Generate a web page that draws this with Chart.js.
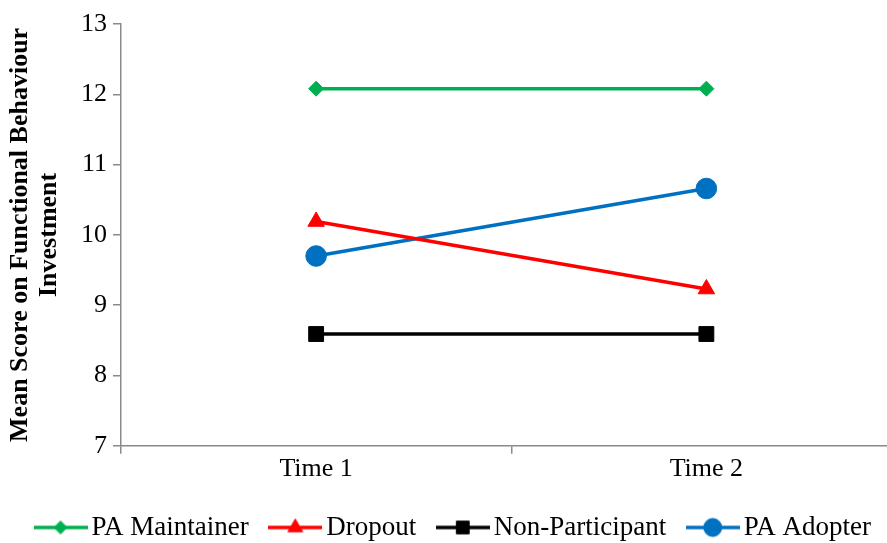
<!DOCTYPE html>
<html>
<head>
<meta charset="utf-8">
<script src="https://cdn.jsdelivr.net/npm/chart.js@4/dist/chart.umd.min.js"></script>
<style>
html,body{margin:0;padding:0;background:#ffffff;overflow:hidden}
#wrap{width:887px;height:543px;position:relative;overflow:hidden}
#c{display:block}
</style>
</head>
<body>
<div id="wrap"><canvas id="c" width="913" height="551"></canvas></div>
<script>
// ---- data ----
const categories = ['Time 1', 'Time 2'];
const seriesNames = ['PA Maintainer', 'Dropout', 'Non-Participant', 'PA Adopter'];
const paMaintainer = [12.08, 12.08];
const dropout = [10.19, 9.23];
const nonParticipant = [8.59, 8.59];
const paAdopter = [9.70, 10.66];
const yAxisTitle = ['Mean Score on Functional Behaviour', 'Investment'];
const yMin = 7;
const yMax = 13;
const yStep = 1;

// ---- styles ----
const seriesValues = [paMaintainer, dropout, nonParticipant, paAdopter];
const colors = ['#00B050', '#FF0000', '#000000', '#0070C0'];
const markers = ['rectRot', 'triangle', 'rect', 'circle'];
const radii = [7.5, 9.5, 10.5, 10.3];
const legendRadii = [6.5, 8.5, 9, 9];
const FONT = '"Liberation Serif", "Times New Roman", serif';
const AXIS_GRAY = '#8a8a8a';

function makeSwatch(i) {
  const cv = document.createElement('canvas');
  cv.width = 54; cv.height = 24;
  const ctx = cv.getContext('2d');
  ctx.strokeStyle = colors[i];
  ctx.lineWidth = 3.5;
  ctx.beginPath(); ctx.moveTo(0, 12); ctx.lineTo(54, 12); ctx.stroke();
  ctx.fillStyle = colors[i];
  ctx.strokeStyle = colors[i];
  ctx.lineWidth = 1;
  Chart.helpers.drawPoint(ctx, {pointStyle: markers[i], radius: legendRadii[i], rotation: 0, borderWidth: 1}, 27, 12);
  return cv;
}

const datasets = seriesNames.map((name, i) => ({
  label: name,
  data: seriesValues[i],
  borderColor: colors[i],
  backgroundColor: colors[i],
  borderWidth: 3.5,
  pointStyle: markers[i],
  pointRadius: radii[i],
  pointBackgroundColor: colors[i],
  pointBorderColor: colors[i],
  pointBorderWidth: 1,
  tension: 0,
  fill: false
}));

new Chart(document.getElementById('c'), {
  type: 'line',
  data: { labels: categories, datasets: datasets },
  options: {
    responsive: false,
    animation: false,
    events: [],
    layout: { padding: { left: 5, right: 4, top: 24, bottom: 0 } },
    scales: {
      x: {
        type: 'category',
        offset: true,
        grid: { offset: true, drawOnChartArea: false, drawTicks: true, tickLength: 8, color: AXIS_GRAY, lineWidth: 1.5 },
        border: { display: true, color: AXIS_GRAY, width: 1.5 },
        ticks: { color: '#000', font: { family: FONT, size: 26 }, padding: 0, maxRotation: 0 }
      },
      y: {
        min: yMin,
        max: yMax,
        afterFit: (scale) => { scale.width = 116; },
        grid: { drawOnChartArea: false, drawTicks: true, tickLength: 8, color: AXIS_GRAY, lineWidth: 1.5 },
        border: { display: true, color: AXIS_GRAY, width: 1.5 },
        ticks: { stepSize: yStep, color: '#000', font: { family: FONT, size: 26 }, padding: 6 },
        title: {
          display: true,
          text: yAxisTitle,
          color: '#000',
          font: { family: FONT, size: 26, weight: 'bold', lineHeight: 1.12 },
          padding: { top: 1, bottom: 0 }
        }
      }
    },
    plugins: {
      tooltip: { enabled: false },
      legend: {
        position: 'bottom',
        labels: {
          usePointStyle: true,
          pointStyleWidth: 35,
          padding: 29,
          color: '#000',
          font: { family: FONT, size: 27 },
          generateLabels: (chart) => chart.data.datasets.map((ds, i) => ({
            text: ds.label,
            pointStyle: makeSwatch(i),
            fillStyle: colors[i],
            strokeStyle: colors[i],
            lineWidth: 0,
            hidden: false,
            datasetIndex: i,
            fontColor: '#000'
          }))
        }
      }
    }
  }
});
</script>
</body>
</html>
